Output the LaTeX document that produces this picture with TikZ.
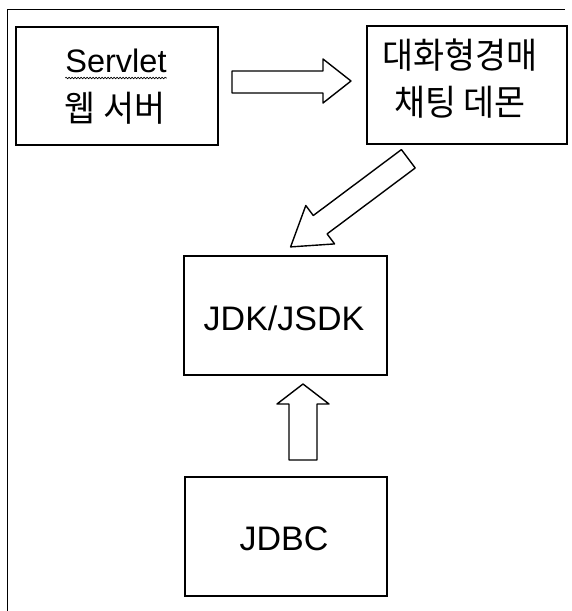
\documentclass[tikz,border=0pt]{standalone}
\usepackage{fontspec}
\setmainfont{Liberation Sans}
\newfontfamily\kr[FakeStretch=0.95]{Noto Sans CJK KR}
\usetikzlibrary{decorations.pathmorphing,calc}
\begin{document}
\begin{tikzpicture}[x=1pt,y=-1pt,
  box/.style={draw,line width=1.6pt,inner sep=0pt},
  blockarrow/.style={draw,line width=1.4pt,line join=round,fill=white},
  lbl/.style={inner sep=0pt,anchor=base},
  latinfont/.style={font=\fontsize{34}{40}\selectfont},
  krfont/.style={font=\kr\fontsize{35.5}{40}\selectfont}]
\useasboundingbox (0,0) rectangle (572,611);
% frame
\draw[line width=1pt] (7.5,611) -- (7.5,9.5) -- (565,9.5);
% boxes
\node[box,minimum width=202pt,minimum height=118pt] (servlet) at (117,86) {};
\node[box,minimum width=200pt,minimum height=118pt] (demo) at (467,85) {};
\node[box,minimum width=203pt,minimum height=119pt] (jdk) at (285.5,315.5) {};
\node[box,minimum width=202pt,minimum height=119pt] (jdbc) at (286,536.5) {};
% texts
\node[lbl,font=\fontsize{32.5}{38}\selectfont] (t1) at (116,72) {Servlet};
\draw[decorate,decoration={snake,segment length=3pt,amplitude=0.8pt},line width=0.6pt]
  ($(t1.base west)+(0,6)$) -- ($(t1.base east)+(0,6)$);
\node[lbl,krfont] (t2) at (115,121) {웹 서버};
\node[lbl,krfont] (t3) at (460,68) {대화형경매};
\node[lbl,krfont] (t4) at (460,115) {채팅 데몬};
\node[lbl,latinfont] (t5) at (284,330) {JDK/JSDK};
\node[lbl,latinfont] (t6) at (284,550) {JDBC};
% block arrows
\draw[blockarrow] (232,71) -- (323,71) -- (323,59) -- (351,81) -- (323,103) -- (323,93) -- (232,93) -- cycle;
\draw[blockarrow] (401.4,149.6) -- (313.3,215.5) -- (305.8,205.5) -- (290.6,246.9)
  -- (334.6,243.9) -- (327.1,233.9) -- (415.2,168.0) -- cycle;
\draw[blockarrow] (289,460) -- (289,404) -- (277,404) -- (303,384) -- (329,404) -- (317,404) -- (317,460) -- cycle;
\end{tikzpicture}
\end{document}
